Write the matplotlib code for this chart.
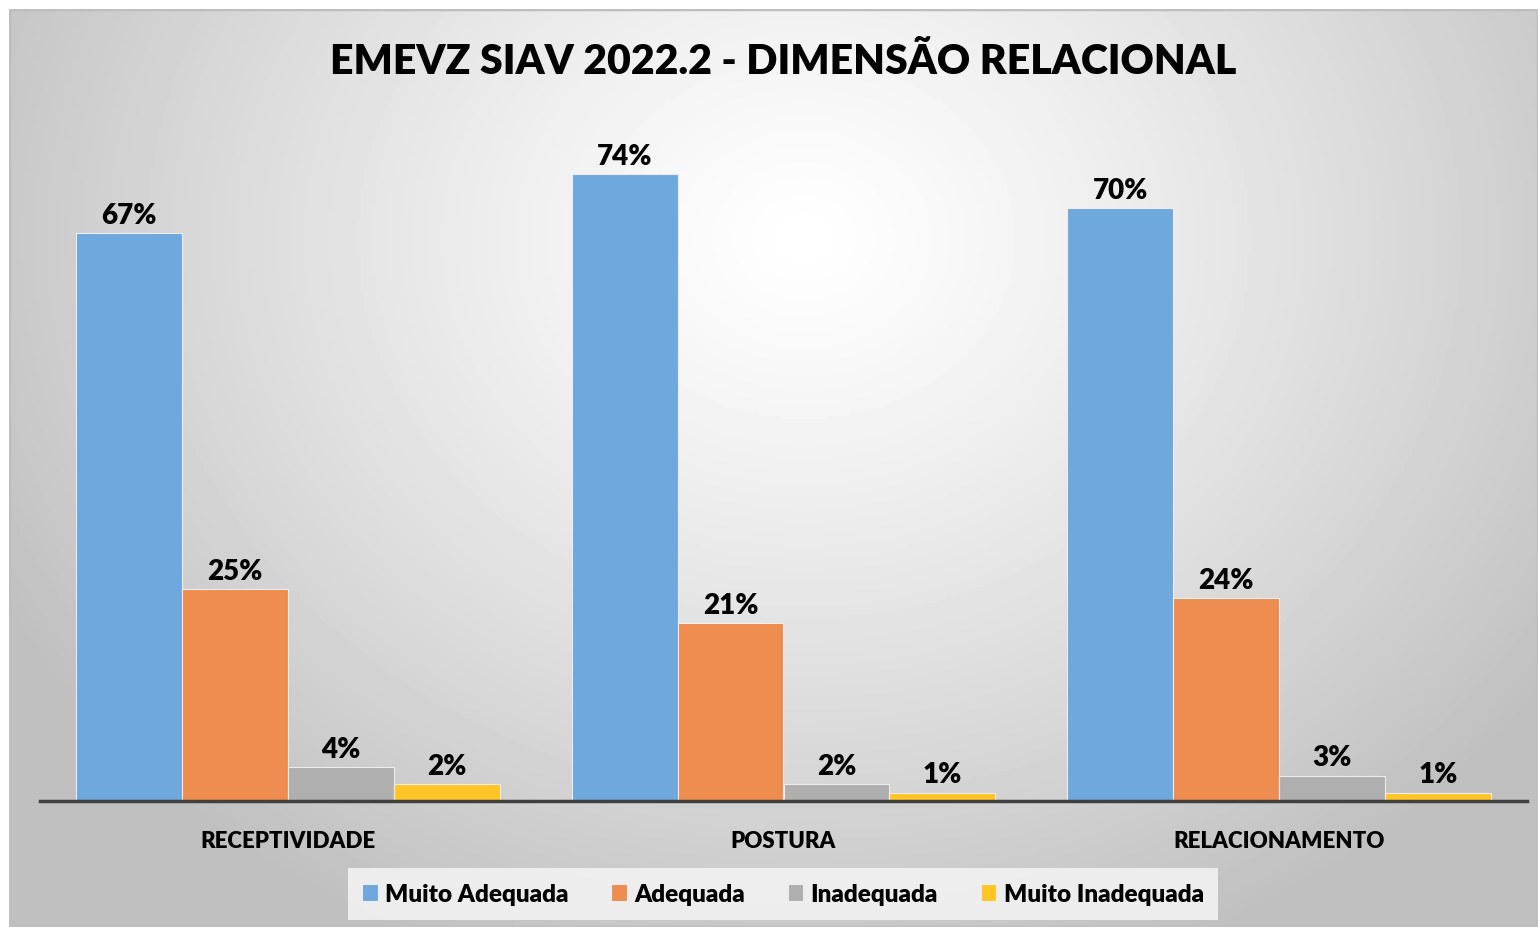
#!/usr/bin/env python3
"""EMEVZ SIAV 2022.2 - Dimensão Relacional: grouped bar chart -> out.png"""
import numpy as np
import matplotlib
matplotlib.use("Agg")
import matplotlib.pyplot as plt
from matplotlib.patches import Rectangle

CATEGORIES = ["RECEPTIVIDADE", "POSTURA", "RELACIONAMENTO"]
SERIES = ["Muito Adequada", "Adequada", "Inadequada", "Muito Inadequada"]
MUITO_ADEQUADA = [67, 74, 70]
ADEQUADA = [25, 21, 24]
INADEQUADA = [4, 2, 3]
MUITO_INADEQUADA = [2, 1, 1]
VALUES = [MUITO_ADEQUADA, ADEQUADA, INADEQUADA, MUITO_INADEQUADA]
COLORS = ["#6FA8DC", "#EE8D4F", "#AFAFAF", "#FFC526"]
TITLE = "EMEVZ SIAV 2022.2 - DIMENSÃO RELACIONAL"

W, H, DPI = 1538, 928, 100
WEIGHT = "heavy"
plt.rcParams["font.family"] = ["Lato", "DejaVu Sans"]

fig = plt.figure(figsize=(W / DPI, H / DPI), dpi=DPI)
fig.patch.set_facecolor("white")

# chart area background: radial grey gradient, white near the top centre
x0, y0 = 9, 10
bg = fig.add_axes([x0 / W, 0, 1 - x0 / W, (H - y0) / H])
gx, gy = np.meshgrid(np.linspace(0, 1, 400), np.linspace(0, 1, 300))
r = np.hypot((gx - 0.52) / 0.60, (gy - 0.25) / 0.85)
shade = 1 - 0.25 * np.clip(r, 0, 1) ** 1.2
bg.imshow(shade, cmap="gray", vmin=0, vmax=1, aspect="auto",
          extent=[0, 1, 0, 1], origin="upper")
bg.set_xlim(0, 1)
bg.set_ylim(0, 1)
bg.axis("off")
bg.add_patch(Rectangle((0, 0), 1, 1, transform=bg.transAxes, fill=False,
                       edgecolor="#BEBEBE", lw=2.5))

# plot axes: baseline at y=802 px, x from 40 to 1527 px
base_px, top_px = 802, 124
ax = fig.add_axes([40 / W, (H - base_px) / H, (1527 - 40) / W, (base_px - top_px) / H])
ax.patch.set_alpha(0)
ax.set_xlim(-0.5, 2.5)
ax.set_ylim(0, 80)

x = np.arange(len(CATEGORIES))
bw = 0.2137
for i, (vals, col) in enumerate(zip(VALUES, COLORS)):
    pos = x + (i - 1.5) * bw
    bars = ax.bar(pos, vals, bw, color=col, edgecolor="#EDEDED", lw=0.8,
                  label=SERIES[i], zorder=2)
    for b, v in zip(bars, vals):
        ax.text(b.get_x() + b.get_width() / 2, v + 0.6, f"{v}%",
                ha="center", va="bottom", fontsize=20, fontweight=WEIGHT,
                color="black")

for s in ["top", "right", "left"]:
    ax.spines[s].set_visible(False)
ax.spines["bottom"].set_color("#404040")
ax.spines["bottom"].set_linewidth(2.5)
ax.set_yticks([])
ax.set_xticks(x)
ax.set_xticklabels(CATEGORIES, fontsize=16, fontweight=WEIGHT)
ax.tick_params(axis="x", length=0, pad=21)

fig.text(783 / W, 1 - 62 / H, TITLE, ha="center", va="center",
         fontsize=29.5, fontweight=WEIGHT)

leg = fig.legend(loc="center", bbox_to_anchor=(783 / W, 1 - 895 / H), ncol=4,
                 frameon=True, fancybox=False, handlelength=0.65,
                 handleheight=0.65, handletextpad=0.3, columnspacing=1.75,
                 borderpad=0.6, prop={"weight": WEIGHT, "size": 17.5})
leg.get_frame().set_facecolor("#F2F2F2")
leg.get_frame().set_edgecolor("none")
leg.get_frame().set_alpha(0.9)

fig.savefig("out.png", dpi=DPI)
